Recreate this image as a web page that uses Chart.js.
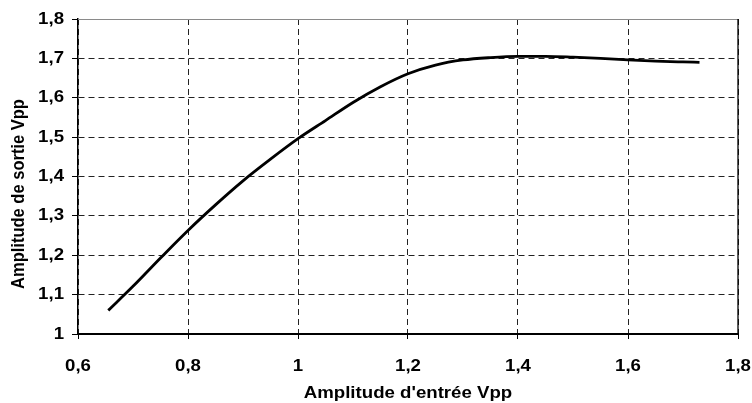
<!DOCTYPE html>
<html>
<head>
<meta charset="utf-8">
<script src="https://cdn.jsdelivr.net/npm/chart.js@4"></script>
<style>
  html, body { margin: 0; padding: 0; background: #ffffff; }
  canvas { display: block; }
</style>
</head>
<body>
<canvas id="c" width="752" height="403"></canvas>
<script>
// Input amplitude (Vpp) and measured output amplitude (Vpp)
const inputVpp = [0.655, 0.70, 0.75, 0.80, 0.85, 0.90, 0.95, 1.00, 1.05, 1.10, 1.15, 1.20,
                  1.25, 1.30, 1.35, 1.40, 1.45, 1.50, 1.55, 1.60, 1.65, 1.70, 1.73];
const outputVpp = [1.060, 1.121, 1.193, 1.263, 1.328, 1.389, 1.444, 1.496, 1.542, 1.588, 1.628, 1.661,
                   1.683, 1.696, 1.702, 1.705, 1.705, 1.703, 1.700, 1.696, 1.693, 1.691, 1.690];

const xTicks = [0.6, 0.8, 1.0, 1.2, 1.4, 1.6, 1.8];
const yTicks = [1.0, 1.1, 1.2, 1.3, 1.4, 1.5, 1.6, 1.7, 1.8];

const xTitle = "Amplitude d'entrée Vpp";
const yTitle = "Amplitude de sortie Vpp";

const FONT = "'Liberation Sans', Arial, sans-serif";
const FONT_SIZE = 16.5;
const TEXT_STRETCH = 1.13;   // labels are drawn slightly wide

function frLabel(v) {
  const r = Math.round(v * 10) / 10;
  return Number.isInteger(r) ? String(r) : r.toFixed(1).replace('.', ',');
}

const canvas = document.getElementById('c');
const ctx = canvas.getContext('2d');

// Widen every label horizontally around its anchor point
const plainFillText = ctx.fillText.bind(ctx);
ctx.fillText = function (text, x, y, maxWidth) {
  ctx.save();
  ctx.translate(x, y);
  ctx.scale(TEXT_STRETCH, 1);
  if (maxWidth === undefined) plainFillText(text, 0, 0);
  else plainFillText(text, 0, 0, maxWidth / TEXT_STRETCH);
  ctx.restore();
};

// Frame (top and right edges) plus the rotated y-axis title
const framePlugin = {
  id: 'frame',
  afterDraw(chart) {
    const c = chart.ctx, a = chart.chartArea;
    c.save();
    c.lineWidth = 1;
    c.strokeStyle = '#8a8a8a';
    c.beginPath();
    c.moveTo(a.left, a.top + 0.5);
    c.lineTo(a.right, a.top + 0.5);
    c.stroke();
    c.strokeStyle = '#000000';
    c.lineWidth = 1.3;
    c.beginPath();
    c.moveTo(a.right, a.top);
    c.lineTo(a.right, a.bottom);
    c.stroke();

    c.translate(19, 194);
    c.scale(TEXT_STRETCH, 1);
    c.rotate(-Math.PI / 2);
    c.fillStyle = '#000000';
    c.font = "bold " + FONT_SIZE + "px " + FONT;
    c.textAlign = 'center';
    c.textBaseline = 'middle';
    plainFillText(yTitle, 0, 0);
    c.restore();
  }
};

new Chart(ctx, {
  type: 'line',
  data: {
    datasets: [{
      data: inputVpp.map((x, i) => ({ x: x, y: outputVpp[i] })),
      borderColor: '#000000',
      borderWidth: 2.8,
      pointRadius: 0,
      fill: false,
      cubicInterpolationMode: 'monotone'
    }]
  },
  options: {
    responsive: false,
    devicePixelRatio: 1,
    animation: false,
    layout: { padding: { top: 19, right: 14, left: 0, bottom: 0 } },
    plugins: { legend: { display: false }, tooltip: { enabled: false } },
    scales: {
      x: {
        type: 'linear',
        min: 0.6,
        max: 1.8,
        afterBuildTicks: s => { s.ticks = xTicks.map(v => ({ value: v })); },
        afterFit: s => { s.height = 69; s.paddingLeft = 0; s.paddingRight = 0; },
        ticks: {
          callback: v => frLabel(v),
          color: '#000000',
          font: { family: FONT, size: FONT_SIZE, weight: 'bold' },
          padding: 18,
          maxRotation: 0
        },
        grid: {
          color: '#222222',
          lineWidth: 1,
          tickLength: 5,
          tickColor: '#000000',
          tickBorderDash: []
        },
        border: { display: true, color: '#000000', width: 2, dash: [6, 4] },
        title: {
          display: true,
          text: xTitle,
          color: '#000000',
          font: { family: FONT, size: FONT_SIZE, weight: 'bold' },
          padding: { top: 0, bottom: 0 }
        }
      },
      y: {
        type: 'linear',
        min: 1,
        max: 1.8,
        afterBuildTicks: s => { s.ticks = yTicks.map(v => ({ value: v })); },
        afterFit: s => { s.width = 78; },
        ticks: {
          callback: v => frLabel(v),
          color: '#000000',
          font: { family: FONT, size: FONT_SIZE, weight: 'bold' },
          padding: 8
        },
        grid: {
          color: '#222222',
          lineWidth: 1,
          tickLength: 6,
          tickColor: '#000000',
          tickBorderDash: []
        },
        border: { display: true, color: '#000000', width: 1.5, dash: [6, 4] }
      }
    }
  },
  plugins: [framePlugin]
});
</script>
</body>
</html>
